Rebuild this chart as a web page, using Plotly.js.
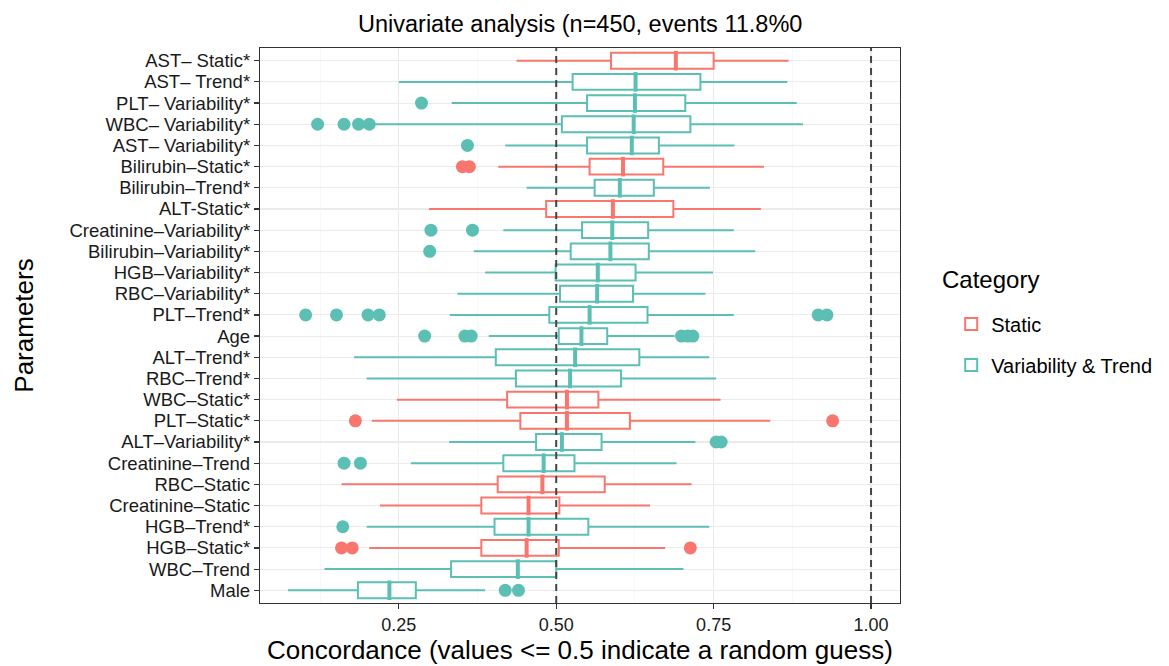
<!DOCTYPE html>
<html>
<head>
<meta charset="utf-8">
<script src="https://cdn.plot.ly/plotly-3.0.1.min.js"></script>
<style>html,body{margin:0;padding:0;background:#fff;}#chart{width:1169px;height:666px;}</style>
</head>
<body>
<div id="chart"></div>
<script>
// Categories, top to bottom
const categories = [
  'AST– Static*','AST– Trend*','PLT– Variability*','WBC– Variability*','AST– Variability*',
  'Bilirubin–Static*','Bilirubin–Trend*','ALT-Static*','Creatinine–Variability*','Bilirubin–Variability*',
  'HGB–Variability*','RBC–Variability*','PLT–Trend*','Age','ALT–Trend*',
  'RBC–Trend*','WBC–Static*','PLT–Static*','ALT–Variability*','Creatinine–Trend',
  'RBC–Static','Creatinine–Static','HGB–Trend*','HGB–Static*','WBC–Trend','Male'
];
const groups = [
  'Static','Variability & Trend','Variability & Trend','Variability & Trend','Variability & Trend',
  'Static','Variability & Trend','Static','Variability & Trend','Variability & Trend',
  'Variability & Trend','Variability & Trend','Variability & Trend','Variability & Trend','Variability & Trend',
  'Variability & Trend','Static','Static','Variability & Trend','Variability & Trend',
  'Static','Static','Variability & Trend','Static','Variability & Trend','Variability & Trend'
];
const lowerWhisker = [0.437,0.250,0.334,0.207,0.419,0.408,0.453,0.298,0.416,0.369,0.387,0.343,0.331,0.393,0.179,0.199,0.247,0.207,0.330,0.269,0.159,0.220,0.199,0.203,0.132,0.074];
const q1Vals       = [0.587,0.526,0.549,0.509,0.549,0.553,0.561,0.484,0.541,0.523,0.499,0.506,0.489,0.504,0.404,0.436,0.422,0.443,0.468,0.416,0.407,0.381,0.402,0.381,0.333,0.185];
const medianVals   = [0.690,0.626,0.625,0.623,0.620,0.606,0.601,0.590,0.589,0.586,0.566,0.565,0.553,0.540,0.530,0.522,0.517,0.517,0.509,0.480,0.478,0.456,0.456,0.453,0.439,0.235];
const q3Vals       = [0.750,0.729,0.705,0.713,0.663,0.670,0.655,0.686,0.646,0.647,0.626,0.622,0.645,0.581,0.632,0.603,0.567,0.617,0.572,0.529,0.577,0.505,0.551,0.504,0.500,0.277];
const upperWhisker = [0.869,0.867,0.882,0.892,0.783,0.830,0.744,0.825,0.782,0.816,0.749,0.737,0.782,0.688,0.743,0.754,0.761,0.840,0.721,0.691,0.715,0.649,0.743,0.673,0.702,0.387];
const outliers = [
  [],[],[0.286],[0.121,0.163,0.186,0.203],[0.359],
  [0.351,0.362],[],[],[0.301,0.367],[0.299],
  [],[],[0.102,0.151,0.201,0.219,0.916,0.930],[0.291,0.355,0.365,0.699,0.709,0.717],[],
  [],[],[0.181,0.939],[0.754,0.762],[0.163,0.189],
  [],[],[0.161],[0.159,0.176,0.713],[],[0.419,0.440]
];
const groupNames = ['Static','Variability & Trend'];
const groupColors = {'Static':'#F8766D','Variability & Trend':'#5BBFB4'};
const refLines = [0.5, 1.0];
const xTicks = [0.25, 0.50, 0.75, 1.00];
const xTickText = ['0.25','0.50','0.75','1.00'];

const FONT = 'Liberation Sans, Arial, Helvetica, sans-serif';
const traces = [];
groupNames.forEach((g) => {
  const idx = categories.map((c,i)=>i).filter(i => groups[i] === g);
  const col = groupColors[g];
  traces.push({
    type:'box', orientation:'h', name:g, legendgroup:g,
    y: idx.map(i=>categories[i]),
    q1: idx.map(i=>q1Vals[i]), median: idx.map(i=>medianVals[i]), q3: idx.map(i=>q3Vals[i]),
    lowerfence: idx.map(i=>lowerWhisker[i]), upperfence: idx.map(i=>upperWhisker[i]),
    boxpoints:false, width:0.75, whiskerwidth:0, fillcolor:'#ffffff',
    line:{color:col, width:2}, hoverinfo:'skip'
  });
});
groupNames.forEach((g) => {
  const idx = categories.map((c,i)=>i).filter(i => groups[i] === g);
  const col = groupColors[g];
  traces.push({
    type:'scatter', mode:'markers', showlegend:false, hoverinfo:'skip',
    x: idx.map(i=>medianVals[i]), y: idx.map(i=>categories[i]),
    marker:{symbol:'line-ns', size:14, color:col, line:{color:col, width:4}}
  });
  const ox = [], oy = [];
  idx.forEach(i => outliers[i].forEach(v => { ox.push(v); oy.push(categories[i]); }));
  traces.push({
    type:'scatter', mode:'markers', showlegend:false, hoverinfo:'skip',
    x: ox, y: oy, marker:{symbol:'circle', size:13, color:col, line:{width:0}}
  });
});

const layout = {
  width:1169, height:666,
  margin:{l:260, r:269, t:48, b:63},
  paper_bgcolor:'#ffffff', plot_bgcolor:'#ffffff',
  font:{family:FONT, color:'#1a1a1a'},
  boxmode:'overlay',
  title:{text:'Univariate analysis (n=450, events 11.8%0', x:0.4963, xref:'container', y:0.965, yref:'container', yanchor:'middle', font:{size:23.5, color:'#000'}},
  xaxis:{
    range:[0.0295, 1.046], tickvals:xTicks, ticktext:xTickText,
    showgrid:true, gridcolor:'#EBEBEB', gridwidth:1.1,
    minor:{tickvals:[0.125,0.375,0.625,0.875], showgrid:true, gridcolor:'#F4F4F4', gridwidth:0.6},
    ticks:'outside', ticklen:5, tickwidth:1.2, tickcolor:'#333',
    showline:true, mirror:true, linecolor:'#333', linewidth:1.2, zeroline:false,
    tickfont:{size:18, color:'#1a1a1a'},
    title:{text:'Concordance (values <= 0.5 indicate a random guess)', font:{size:26, color:'#000'}, standoff:4}
  },
  yaxis:{
    type:'category', categoryorder:'array', categoryarray:categories.slice().reverse(),
    tickmode:'array', tickvals:categories, ticktext:categories,
    range:[-0.6, categories.length - 0.4],
    showgrid:true, gridcolor:'#EBEBEB', gridwidth:1.1,
    ticks:'outside', ticklen:5, tickwidth:1.2, tickcolor:'#333',
    showline:true, mirror:true, linecolor:'#333', linewidth:1.2, zeroline:false,
    tickfont:{size:18.5, color:'#1a1a1a'},
    title:{text:'Parameters', font:{size:26, color:'#000'}, standoff:28}
  },
  shapes: refLines.map(v => ({type:'line', xref:'x', yref:'paper', x0:v, x1:v, y0:0, y1:1, layer:'above',
    line:{color:'#444', width:2, dash:'7px,5px'}})),
  annotations:[{text:'Category', xref:'paper', yref:'paper', x:1.0625, y:0.583, xanchor:'left', yanchor:'middle',
    showarrow:false, font:{size:24, color:'#000'}}],
  legend:{
    x:1.08, xanchor:'left', y:0.538, yanchor:'top',
    font:{size:20, color:'#000'}, tracegroupgap:12, bgcolor:'rgba(0,0,0,0)'
  },
  showlegend:true
};
Plotly.newPlot('chart', traces, layout, {displayModeBar:false, staticPlot:true});
</script>
</body>
</html>
